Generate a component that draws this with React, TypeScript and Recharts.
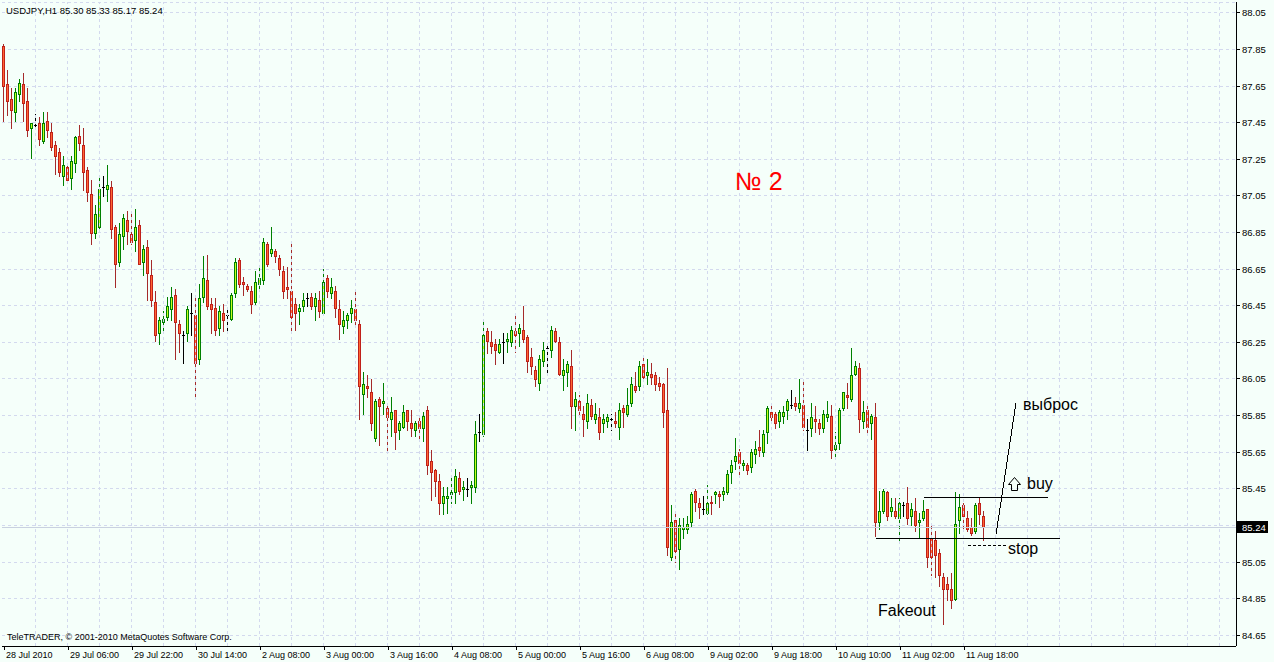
import React from 'react';
import { ComposedChart, Bar, XAxis, YAxis, CartesianGrid, ReferenceLine } from 'recharts';

// ---------- data ----------
const headerText = 'USDJPY,H1  85.30 85.33 85.17 85.24';
const footerText = 'TeleTRADER, \u00A9 2001-2010 MetaQuotes Software Corp.';

const opens = [
  87.87, 87.66, 87.58, 87.51, 87.61, 87.66, 87.57, 87.42, 87.44, 87.45,
  87.35, 87.46, 87.40, 87.33, 87.29, 87.16, 87.21, 87.15, 87.23, 87.38,
  87.33, 87.19, 87.06, 86.85, 86.88, 87.10, 87.09, 87.10, 86.88, 86.69,
  86.83, 86.92, 86.84, 86.81, 86.89, 86.69, 86.77, 86.62, 86.47, 86.30,
  86.36, 86.39, 86.43, 86.51, 86.35, 86.29, 86.30, 86.41, 86.40, 86.16,
  86.50, 86.59, 86.46, 86.44, 86.33, 86.41, 86.40, 86.38, 86.52, 86.70,
  86.58, 86.56, 86.53, 86.47, 86.57, 86.59, 86.79, 86.74, 86.75, 86.71,
  86.64, 86.55, 86.53, 86.46, 86.42, 86.45, 86.49, 86.50, 86.45, 86.48,
  86.41, 86.60, 86.52, 86.53, 86.43, 86.34, 86.37, 86.41, 86.43, 86.35,
  85.97, 86.01, 85.98, 85.73, 85.94, 85.92, 85.89, 85.83, 85.88, 85.77,
  85.79, 85.88, 85.81, 85.77, 85.82, 85.78, 85.88, 85.60, 85.55, 85.49,
  85.37, 85.40, 85.42, 85.43, 85.51, 85.45, 85.45, 85.46, 85.46, 85.76,
  85.75, 86.31, 86.25, 86.24, 86.20, 86.25, 86.26, 86.25, 86.31, 86.30,
  86.32, 86.28, 86.17, 86.10, 86.03, 86.15, 86.22, 86.21, 86.31, 86.25,
  86.07, 86.09, 86.12, 85.90, 85.93, 85.86, 85.82, 85.91, 85.83, 85.84,
  85.81, 85.82, 85.83, 85.82, 85.79, 85.89, 85.86, 85.92, 86.01, 86.01,
  86.13, 86.07, 86.08, 86.07, 86.03, 86.02, 85.88, 85.08, 85.28, 85.12,
  85.23, 85.23, 85.27, 85.44, 85.37, 85.34, 85.32, 85.38, 85.42, 85.42,
  85.42, 85.43, 85.54, 85.60, 85.65, 85.58, 85.58, 85.57, 85.64, 85.68,
  85.65, 85.76, 85.87, 85.86, 85.82, 85.85, 85.88, 85.91, 85.92, 85.89,
  85.91, 85.77, 85.78, 85.83, 85.81, 85.78, 85.84, 85.85, 85.67, 85.70,
  85.89, 85.96, 85.94, 86.08, 86.11, 85.82, 85.88, 85.81, 85.84, 85.27,
  85.33, 85.43, 85.33, 85.33, 85.29, 85.36, 85.37, 85.30, 85.33, 85.27,
  85.29, 85.34, 85.18, 85.17, 85.10, 84.97, 84.93, 84.90, 84.85, 85.28,
  85.36, 85.29, 85.24, 85.22, 85.37, 85.30,
];
const highs = [
  87.88, 87.74, 87.64, 87.64, 87.69, 87.72, 87.64, 87.45, 87.50, 87.48,
  87.51, 87.51, 87.45, 87.35, 87.31, 87.27, 87.23, 87.27, 87.38, 87.44,
  87.42, 87.21, 87.14, 87.00, 87.16, 87.16, 87.22, 87.13, 86.89, 86.90,
  86.95, 86.97, 86.97, 86.98, 86.92, 86.78, 86.81, 86.70, 86.53, 86.39,
  86.42, 86.50, 86.55, 86.54, 86.37, 86.31, 86.45, 86.52, 86.49, 86.57,
  86.72, 86.73, 86.49, 86.49, 86.45, 86.46, 86.43, 86.52, 86.71, 86.71,
  86.61, 86.57, 86.56, 86.64, 86.66, 86.82, 86.80, 86.88, 86.76, 86.73,
  86.67, 86.66, 86.79, 86.49, 86.46, 86.52, 86.52, 86.52, 86.52, 86.53,
  86.65, 86.62, 86.60, 86.56, 86.48, 86.42, 86.41, 86.48, 86.53, 86.37,
  86.09, 86.07, 86.05, 85.94, 85.95, 86.03, 85.91, 85.95, 85.88, 85.82,
  85.91, 85.88, 85.88, 85.82, 85.84, 85.87, 85.90, 85.66, 85.56, 85.53,
  85.46, 85.46, 85.52, 85.56, 85.54, 85.49, 85.51, 85.49, 85.82, 85.86,
  86.38, 86.33, 86.31, 86.27, 86.27, 86.30, 86.30, 86.34, 86.40, 86.35,
  86.45, 86.29, 86.22, 86.12, 86.18, 86.25, 86.23, 86.34, 86.33, 86.28,
  86.16, 86.15, 86.21, 85.98, 85.96, 85.90, 85.97, 85.94, 85.92, 85.89,
  85.86, 85.86, 85.86, 85.87, 85.92, 85.91, 86.00, 86.06, 86.09, 86.15,
  86.18, 86.16, 86.14, 86.09, 86.06, 86.03, 86.11, 85.36, 85.33, 85.29,
  85.29, 85.30, 85.43, 85.45, 85.40, 85.41, 85.47, 85.41, 85.44, 85.44,
  85.46, 85.55, 85.61, 85.73, 85.67, 85.61, 85.59, 85.67, 85.71, 85.77,
  85.77, 85.90, 85.90, 85.87, 85.88, 85.90, 85.94, 85.99, 85.95, 86.05,
  86.05, 85.83, 85.92, 85.90, 85.83, 85.88, 85.93, 85.91, 85.76, 85.89,
  85.98, 86.03, 86.22, 86.15, 86.14, 85.93, 85.90, 85.86, 85.92, 85.44,
  85.45, 85.44, 85.40, 85.40, 85.40, 85.38, 85.46, 85.37, 85.40, 85.32,
  85.39, 85.34, 85.26, 85.22, 85.12, 84.99, 84.97, 84.99, 85.43, 85.42,
  85.37, 85.33, 85.29, 85.37, 85.40, 85.33,
];
const lows = [
  87.46, 87.49, 87.42, 87.46, 87.57, 87.46, 87.38, 87.26, 87.42, 87.33,
  87.34, 87.37, 87.30, 87.17, 87.16, 87.11, 87.13, 87.09, 87.18, 87.30,
  87.08, 87.02, 86.79, 86.82, 86.87, 87.05, 87.02, 86.82, 86.55, 86.67,
  86.76, 86.79, 86.79, 86.75, 86.68, 86.62, 86.48, 86.45, 86.26, 86.24,
  86.32, 86.37, 86.37, 86.16, 86.20, 86.14, 86.26, 86.29, 85.95, 86.13,
  86.47, 86.43, 86.30, 86.29, 86.29, 86.31, 86.31, 86.37, 86.50, 86.55,
  86.51, 86.53, 86.41, 86.46, 86.53, 86.57, 86.67, 86.72, 86.69, 86.62,
  86.49, 86.49, 86.31, 86.32, 86.35, 86.42, 86.45, 86.43, 86.37, 86.39,
  86.40, 86.50, 86.49, 86.39, 86.27, 86.30, 86.33, 86.36, 86.34, 85.83,
  85.86, 85.95, 85.77, 85.71, 85.69, 85.86, 85.66, 85.74, 85.67, 85.72,
  85.78, 85.77, 85.74, 85.74, 85.73, 85.71, 85.53, 85.39, 85.41, 85.31,
  85.31, 85.32, 85.37, 85.37, 85.42, 85.39, 85.41, 85.37, 85.43, 85.71,
  85.74, 86.19, 86.19, 86.13, 86.19, 86.14, 86.20, 86.23, 86.20, 86.23,
  86.25, 86.09, 86.08, 86.01, 85.99, 86.12, 86.09, 86.17, 86.25, 86.07,
  85.99, 86.01, 85.78, 85.77, 85.85, 85.74, 85.78, 85.83, 85.81, 85.72,
  85.76, 85.79, 85.77, 85.79, 85.72, 85.79, 85.85, 85.90, 85.98, 85.99,
  86.04, 86.02, 86.02, 85.99, 85.99, 85.79, 85.09, 85.06, 85.05, 85.01,
  85.18, 85.21, 85.24, 85.33, 85.29, 85.31, 85.31, 85.31, 85.37, 85.35,
  85.39, 85.42, 85.48, 85.56, 85.53, 85.55, 85.53, 85.54, 85.59, 85.63,
  85.63, 85.70, 85.81, 85.78, 85.79, 85.81, 85.83, 85.89, 85.88, 85.87,
  85.77, 85.66, 85.74, 85.76, 85.75, 85.76, 85.82, 85.62, 85.62, 85.67,
  85.88, 85.89, 85.93, 86.07, 85.76, 85.78, 85.75, 85.72, 85.19, 85.23,
  85.32, 85.28, 85.30, 85.29, 85.17, 85.30, 85.26, 85.25, 85.22, 85.18,
  85.28, 85.02, 84.98, 84.97, 84.92, 84.71, 84.84, 84.80, 84.84, 85.21,
  85.22, 85.22, 85.20, 85.21, 85.26, 85.17,
];
const closes = [
  87.65, 87.57, 87.52, 87.62, 87.67, 87.56, 87.41, 87.45, 87.44, 87.36,
  87.45, 87.41, 87.32, 87.27, 87.18, 87.22, 87.14, 87.24, 87.37, 87.34,
  87.18, 87.07, 86.85, 86.95, 87.09, 87.10, 87.11, 86.87, 86.68, 86.84,
  86.93, 86.86, 86.80, 86.88, 86.68, 86.76, 86.63, 86.48, 86.29, 86.37,
  86.38, 86.45, 86.50, 86.36, 86.30, 86.29, 86.43, 86.41, 86.14, 86.49,
  86.60, 86.45, 86.43, 86.32, 86.42, 86.37, 86.40, 86.51, 86.69, 86.57,
  86.57, 86.54, 86.46, 86.58, 86.60, 86.80, 86.68, 86.76, 86.72, 86.65,
  86.53, 86.54, 86.39, 86.41, 86.44, 86.48, 86.49, 86.45, 86.49, 86.42,
  86.58, 86.53, 86.55, 86.44, 86.35, 86.37, 86.40, 86.44, 86.37, 86.01,
  86.02, 86.00, 85.81, 85.93, 85.90, 85.93, 85.84, 85.87, 85.76, 85.81,
  85.87, 85.82, 85.78, 85.81, 85.78, 85.85, 85.58, 85.54, 85.49, 85.37,
  85.41, 85.41, 85.43, 85.52, 85.44, 85.46, 85.45, 85.47, 85.75, 85.76,
  86.29, 86.26, 86.23, 86.21, 86.24, 86.25, 86.27, 86.32, 86.29, 86.33,
  86.27, 86.15, 86.12, 86.05, 86.16, 86.21, 86.22, 86.32, 86.26, 86.08,
  86.10, 86.13, 85.90, 85.94, 85.88, 85.83, 85.92, 85.85, 85.86, 85.76,
  85.83, 85.84, 85.83, 85.81, 85.88, 85.87, 85.91, 86.02, 85.99, 86.12,
  86.06, 86.09, 86.06, 86.02, 86.01, 85.87, 85.13, 85.27, 85.11, 85.25,
  85.24, 85.26, 85.42, 85.38, 85.35, 85.34, 85.37, 85.37, 85.43, 85.41,
  85.44, 85.53, 85.58, 85.63, 85.59, 85.59, 85.55, 85.65, 85.67, 85.66,
  85.75, 85.89, 85.84, 85.81, 85.87, 85.87, 85.93, 85.91, 85.90, 85.92,
  85.79, 85.77, 85.84, 85.82, 85.78, 85.86, 85.86, 85.66, 85.69, 85.88,
  85.98, 85.95, 86.07, 86.12, 85.83, 85.87, 85.79, 85.85, 85.27, 85.33,
  85.44, 85.30, 85.35, 85.30, 85.37, 85.36, 85.29, 85.34, 85.25, 85.28,
  85.33, 85.08, 85.08, 85.09, 84.98, 84.90, 84.90, 84.84, 85.26, 85.35,
  85.30, 85.23, 85.21, 85.36, 85.31, 85.24,
];

const timeTickIndex = [0, 16, 32, 48, 64, 80, 96, 112, 128, 144, 160, 176, 192, 208, 224, 240];
const timeTickLabels = [
  '28 Jul 2010', '29 Jul 06:00', '29 Jul 22:00', '30 Jul 14:00', '2 Aug 08:00', '3 Aug 00:00',
  '3 Aug 16:00', '4 Aug 08:00', '5 Aug 00:00', '5 Aug 16:00', '6 Aug 08:00', '9 Aug 02:00',
  '9 Aug 18:00', '10 Aug 10:00', '11 Aug 02:00', '11 Aug 18:00',
];
const priceTicks = [
  84.65, 84.85, 85.05, 85.25, 85.45, 85.65, 85.85, 86.05, 86.25, 86.45,
  86.65, 86.85, 87.05, 87.25, 87.45, 87.65, 87.85, 88.05,
];
const lastPrice = 85.24;

// annotation levels (price) and bar positions (index)
const rangeTop = 85.40;
const rangeBottom = 85.18;
const stopLevel = 85.14;
const breakoutLine = [{ x: 248, y: 85.20 }, { x: 253, y: 85.92 }];

// ---------- layout constants ----------
const W = 1274;
const H = 662;
const SLOTS = 308;
const BG = '#F5FFFA';
const GRID = '#D3D9EE';
const FONT = '"Liberation Sans", Arial, sans-serif';
const BULL_FILL = '#C4FF1E';
const BULL_LINE = '#008000';
const BEAR_FILL = '#FF6633';
const BEAR_LINE = '#C0201A';
const BEAR_WICK = '#A52A2A';

const chartData = Array.from({ length: SLOTS }, (_, i) =>
  i < opens.length
    ? { i, range: [lows[i], highs[i]], o: opens[i], h: highs[i], l: lows[i], c: closes[i] }
    : { i }
);

const gridIdx = Array.from({ length: 38 }, (_, k) => 8 * (k + 1));

const Candle = (props: any) => {
  const { x, y, width, height, payload } = props;
  if (!payload || payload.o == null || x == null || y == null) return <g />;
  const { o, h, l, c } = payload;
  const top = Math.min(y, y + height);
  const bot = Math.max(y, y + height);
  const k = h === l ? 0 : (bot - top) / (h - l);
  const py = (v: number) => top + (h - v) * k;
  const cx = Math.round(x + width / 2) - 0.5;
  const yH = Math.round(py(h));
  const yL = Math.round(py(l));
  if (o === c) {
    const yo = Math.round(py(o)) + 0.5;
    return (
      <g>
        <line x1={cx} x2={cx} y1={yH} y2={yL + 1} stroke="#000" strokeWidth={1} />
        <line x1={cx - 1.5} x2={cx + 1.5} y1={yo} y2={yo} stroke="#000" strokeWidth={1} />
      </g>
    );
  }
  const bull = c > o;
  const bt = Math.round(py(Math.max(o, c))) + 0.5;
  let bb = Math.round(py(Math.min(o, c))) + 0.5;
  if (bb - bt < 1) bb = bt + 1;
  return (
    <g>
      <line x1={cx} x2={cx} y1={yH} y2={yL + 1} stroke={bull ? BULL_LINE : BEAR_WICK} strokeWidth={1} />
      <rect
        x={cx - 1}
        y={bt}
        width={2}
        height={bb - bt}
        fill={bull ? BULL_FILL : BEAR_FILL}
        stroke={bull ? BULL_LINE : BEAR_LINE}
        strokeWidth={1}
      />
    </g>
  );
};

const TimeTick = (props: any) => {
  const { x, y, payload } = props;
  const idx = timeTickIndex.indexOf(payload.value);
  if (idx < 0) return <g />;
  return (
    <text x={Math.round(x) + 2} y={y + 6} fontSize={9} fontFamily={FONT} fill="#000" textAnchor="start">
      {timeTickLabels[idx]}
    </text>
  );
};

const PriceTick = (props: any) => {
  const { x, y, payload } = props;
  if (Math.abs(payload.value - lastPrice) < 0.015) return <g />;
  return (
    <text x={x} y={y + 3.5} fontSize={9.5} fontFamily={FONT} fill="#000" textAnchor="start">
      {Number(payload.value).toFixed(2)}
    </text>
  );
};

const PriceTag = (props: any) => {
  const vb = props.viewBox || {};
  const x0 = (vb.x || 0) + (vb.width || 0) + 1;
  const y0 = vb.y || 0;
  return (
    <g>
      <rect x={x0} y={Math.round(y0) - 6} width={31} height={12} fill="#000" />
      <text x={x0 + 5} y={Math.round(y0) + 3.5} fontSize={9.5} fontFamily={FONT} fill="#fff">
        {lastPrice.toFixed(2)}
      </text>
    </g>
  );
};

const VGridLine = (props: any) => {
  const x = Math.round(props.x1) - 0.5;
  return <line x1={x} x2={x} y1={props.y1} y2={props.y2} stroke={GRID} strokeWidth={1} strokeDasharray="3 3" />;
};

export default function App() {
  return (
    <div style={{ position: 'fixed', left: 0, top: 0, width: W, height: H, background: BG, overflow: 'hidden' }}>
      <div style={{ position: 'absolute', left: 0, top: 0, shapeRendering: 'crispEdges' } as any}>
        <ComposedChart
          width={W}
          height={H}
          data={chartData}
          margin={{ top: 2, right: 0, bottom: 0, left: 2 }}
          barCategoryGap="10%"
        >
          <CartesianGrid horizontal vertical={false} stroke={GRID} strokeDasharray="3 3" />
          <XAxis
            dataKey="i"
            type="category"
            height={16}
            ticks={timeTickIndex}
            interval={0}
            padding={{ left: 0, right: 2 }}
            tick={<TimeTick />}
            tickSize={4}
            tickMargin={2}
            tickLine={{ stroke: '#000' }}
            axisLine={{ stroke: '#000' }}
          />
          <XAxis
            xAxisId="frameT"
            dataKey="i"
            type="category"
            orientation="top"
            height={0}
            tick={false}
            tickLine={false}
            axisLine={{ stroke: '#000' }}
          />
          <YAxis
            orientation="right"
            width={38}
            type="number"
            domain={[84.591, 88.11]}
            allowDataOverflow
            ticks={priceTicks}
            interval={0}
            tick={<PriceTick />}
            tickSize={4}
            tickMargin={2}
            tickLine={{ stroke: '#000' }}
            axisLine={{ stroke: '#000' }}
          />
          <YAxis
            yAxisId="frameL"
            orientation="left"
            width={0}
            type="number"
            domain={[84.591, 88.11]}
            tick={false}
            tickLine={false}
            axisLine={{ stroke: '#000' }}
          />
          {gridIdx.map((g) => (
            <ReferenceLine key={'vg' + g} x={g} stroke={GRID} strokeDasharray="3 3" shape={<VGridLine />} />
          ))}
          <ReferenceLine y={lastPrice} stroke="#C9D1E0" strokeWidth={1} label={<PriceTag />} />
          <Bar dataKey="range" shape={<Candle />} isAnimationActive={false} />
          <ReferenceLine
            segment={[{ x: 230, y: rangeTop }, { x: 261, y: rangeTop }]}
            stroke="#000"
            strokeWidth={1}
          />
          <ReferenceLine
            segment={[{ x: 218, y: rangeBottom }, { x: 264, y: rangeBottom }]}
            stroke="#000"
            strokeWidth={1}
          />
          <ReferenceLine
            segment={[{ x: 241, y: stopLevel }, { x: 251, y: stopLevel }]}
            stroke="#000"
            strokeWidth={1}
            strokeDasharray="3 2"
          />
          <ReferenceLine segment={breakoutLine} stroke="#000" strokeWidth={1} />
        </ComposedChart>
      </div>
      <svg
        width={W}
        height={H}
        style={{ position: 'absolute', left: 0, top: 0, pointerEvents: 'none' }}
      >
        <text x={6} y={14} fontSize={9.5} fontFamily={FONT} fill="#000">{headerText}</text>
        <text x={7} y={640} fontSize={9} fontFamily={FONT} fill="#000">{footerText}</text>
        <text x={735} y={190} fontSize={25} fontFamily={FONT} fill="#FF0000">{'\u2116 2'}</text>
        <text x={1023} y={410} fontSize={16} fontFamily={FONT} fill="#000">выброс</text>
        <path
          d="M1014.5 477.5 L1020.5 484.5 L1017.5 484.5 L1017.5 490.5 L1011.5 490.5 L1011.5 484.5 L1008.5 484.5 Z"
          fill="none"
          stroke="#000"
          strokeWidth={1}
        />
        <text x={1027} y={489} fontSize={16} fontFamily={FONT} fill="#000">buy</text>
        <text x={1008} y={554} fontSize={16} fontFamily={FONT} fill="#000">stop</text>
        <text x={878} y={616} fontSize={16} fontFamily={FONT} fill="#000">Fakeout</text>
      </svg>
    </div>
  );
}
